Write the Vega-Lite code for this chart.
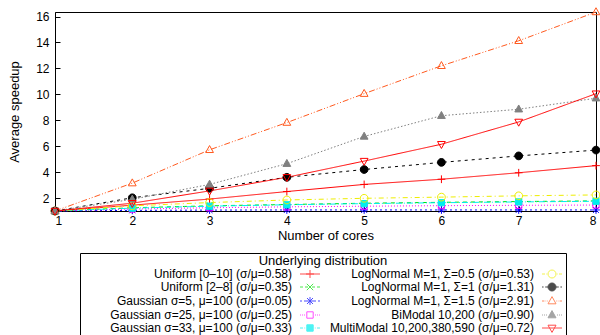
{
  "$schema": "https://vega.github.io/schema/vega-lite/v6.json",
  "width": 541,
  "height": 199,
  "autosize": {"type": "none"},
  "padding": {"left": 55, "top": 12, "right": 4, "bottom": 124},
  "background": "white",
  "config": {
    "font": "Liberation Sans",
    "view": {"stroke": "black", "strokeWidth": 1},
    "axis": {"labelFont": "Liberation Sans", "titleFont": "Liberation Sans", "labelFontSize": 12, "titleFontSize": 13, "titleFontWeight": "normal", "labelColor": "black", "titleColor": "black", "domainColor": "black", "tickColor": "black", "grid": false},
    "legend": {"orient": "none", "legendX": 25, "legendY": 241, "columns": 2, "gridAlign": "each", "labelAlign": "right", "labelOffset": -24, "symbolOffset": 222, "labelLimit": 400, "symbolSize": 64, "symbolStrokeWidth": 1, "symbolFillColor": "transparent", "labelFont": "Liberation Sans", "labelFontSize": 12, "labelColor": "black", "titleFont": "Liberation Sans", "titleFontSize": 13, "titleFontWeight": "normal", "titleColor": "black", "titleAnchor": "middle", "titlePadding": 0, "strokeColor": "black", "padding": 2, "rowPadding": 1, "columnPadding": 2}
  },
  "data": {"values": [
    {"series": "Uniform [0–10] (σ/μ=0.58)", "cores": 1, "speedup": 1},
    {"series": "Uniform [0–10] (σ/μ=0.58)", "cores": 2, "speedup": 1.45},
    {"series": "Uniform [0–10] (σ/μ=0.58)", "cores": 3, "speedup": 1.92},
    {"series": "Uniform [0–10] (σ/μ=0.58)", "cores": 4, "speedup": 2.5},
    {"series": "Uniform [0–10] (σ/μ=0.58)", "cores": 5, "speedup": 3.05},
    {"series": "Uniform [0–10] (σ/μ=0.58)", "cores": 6, "speedup": 3.45},
    {"series": "Uniform [0–10] (σ/μ=0.58)", "cores": 7, "speedup": 3.95},
    {"series": "Uniform [0–10] (σ/μ=0.58)", "cores": 8, "speedup": 4.5},
    {"series": "Uniform [2–8] (σ/μ=0.35)", "cores": 1, "speedup": 1},
    {"series": "Uniform [2–8] (σ/μ=0.35)", "cores": 2, "speedup": 1.25},
    {"series": "Uniform [2–8] (σ/μ=0.35)", "cores": 3, "speedup": 1.4},
    {"series": "Uniform [2–8] (σ/μ=0.35)", "cores": 4, "speedup": 1.5},
    {"series": "Uniform [2–8] (σ/μ=0.35)", "cores": 5, "speedup": 1.6},
    {"series": "Uniform [2–8] (σ/μ=0.35)", "cores": 6, "speedup": 1.67},
    {"series": "Uniform [2–8] (σ/μ=0.35)", "cores": 7, "speedup": 1.73},
    {"series": "Uniform [2–8] (σ/μ=0.35)", "cores": 8, "speedup": 1.78},
    {"series": "Gaussian σ=5, μ=100 (σ/μ=0.05)", "cores": 1, "speedup": 1},
    {"series": "Gaussian σ=5, μ=100 (σ/μ=0.05)", "cores": 2, "speedup": 1.05},
    {"series": "Gaussian σ=5, μ=100 (σ/μ=0.05)", "cores": 3, "speedup": 1.07},
    {"series": "Gaussian σ=5, μ=100 (σ/μ=0.05)", "cores": 4, "speedup": 1.08},
    {"series": "Gaussian σ=5, μ=100 (σ/μ=0.05)", "cores": 5, "speedup": 1.08},
    {"series": "Gaussian σ=5, μ=100 (σ/μ=0.05)", "cores": 6, "speedup": 1.08},
    {"series": "Gaussian σ=5, μ=100 (σ/μ=0.05)", "cores": 7, "speedup": 1.08},
    {"series": "Gaussian σ=5, μ=100 (σ/μ=0.05)", "cores": 8, "speedup": 1.08},
    {"series": "Gaussian σ=25, μ=100 (σ/μ=0.25)", "cores": 1, "speedup": 1},
    {"series": "Gaussian σ=25, μ=100 (σ/μ=0.25)", "cores": 2, "speedup": 1.15},
    {"series": "Gaussian σ=25, μ=100 (σ/μ=0.25)", "cores": 3, "speedup": 1.25},
    {"series": "Gaussian σ=25, μ=100 (σ/μ=0.25)", "cores": 4, "speedup": 1.32},
    {"series": "Gaussian σ=25, μ=100 (σ/μ=0.25)", "cores": 5, "speedup": 1.37},
    {"series": "Gaussian σ=25, μ=100 (σ/μ=0.25)", "cores": 6, "speedup": 1.41},
    {"series": "Gaussian σ=25, μ=100 (σ/μ=0.25)", "cores": 7, "speedup": 1.44},
    {"series": "Gaussian σ=25, μ=100 (σ/μ=0.25)", "cores": 8, "speedup": 1.46},
    {"series": "Gaussian σ=33, μ=100 (σ/μ=0.33)", "cores": 1, "speedup": 1},
    {"series": "Gaussian σ=33, μ=100 (σ/μ=0.33)", "cores": 2, "speedup": 1.22},
    {"series": "Gaussian σ=33, μ=100 (σ/μ=0.33)", "cores": 3, "speedup": 1.37},
    {"series": "Gaussian σ=33, μ=100 (σ/μ=0.33)", "cores": 4, "speedup": 1.48},
    {"series": "Gaussian σ=33, μ=100 (σ/μ=0.33)", "cores": 5, "speedup": 1.57},
    {"series": "Gaussian σ=33, μ=100 (σ/μ=0.33)", "cores": 6, "speedup": 1.64},
    {"series": "Gaussian σ=33, μ=100 (σ/μ=0.33)", "cores": 7, "speedup": 1.7},
    {"series": "Gaussian σ=33, μ=100 (σ/μ=0.33)", "cores": 8, "speedup": 1.75},
    {"series": "LogNormal M=1, Σ=0.5 (σ/μ=0.53)", "cores": 1, "speedup": 1},
    {"series": "LogNormal M=1, Σ=0.5 (σ/μ=0.53)", "cores": 2, "speedup": 1.4},
    {"series": "LogNormal M=1, Σ=0.5 (σ/μ=0.53)", "cores": 3, "speedup": 1.65},
    {"series": "LogNormal M=1, Σ=0.5 (σ/μ=0.53)", "cores": 4, "speedup": 1.85},
    {"series": "LogNormal M=1, Σ=0.5 (σ/μ=0.53)", "cores": 5, "speedup": 1.98},
    {"series": "LogNormal M=1, Σ=0.5 (σ/μ=0.53)", "cores": 6, "speedup": 2.07},
    {"series": "LogNormal M=1, Σ=0.5 (σ/μ=0.53)", "cores": 7, "speedup": 2.17},
    {"series": "LogNormal M=1, Σ=0.5 (σ/μ=0.53)", "cores": 8, "speedup": 2.24},
    {"series": "LogNormal M=1, Σ=1 (σ/μ=1.31)", "cores": 1, "speedup": 1},
    {"series": "LogNormal M=1, Σ=1 (σ/μ=1.31)", "cores": 2, "speedup": 2.02},
    {"series": "LogNormal M=1, Σ=1 (σ/μ=1.31)", "cores": 3, "speedup": 2.75},
    {"series": "LogNormal M=1, Σ=1 (σ/μ=1.31)", "cores": 4, "speedup": 3.6},
    {"series": "LogNormal M=1, Σ=1 (σ/μ=1.31)", "cores": 5, "speedup": 4.2},
    {"series": "LogNormal M=1, Σ=1 (σ/μ=1.31)", "cores": 6, "speedup": 4.75},
    {"series": "LogNormal M=1, Σ=1 (σ/μ=1.31)", "cores": 7, "speedup": 5.25},
    {"series": "LogNormal M=1, Σ=1 (σ/μ=1.31)", "cores": 8, "speedup": 5.7},
    {"series": "LogNormal M=1, Σ=1.5 (σ/μ=2.91)", "cores": 1, "speedup": 1},
    {"series": "LogNormal M=1, Σ=1.5 (σ/μ=2.91)", "cores": 2, "speedup": 3.15},
    {"series": "LogNormal M=1, Σ=1.5 (σ/μ=2.91)", "cores": 3, "speedup": 5.72},
    {"series": "LogNormal M=1, Σ=1.5 (σ/μ=2.91)", "cores": 4, "speedup": 7.82},
    {"series": "LogNormal M=1, Σ=1.5 (σ/μ=2.91)", "cores": 5, "speedup": 10.05},
    {"series": "LogNormal M=1, Σ=1.5 (σ/μ=2.91)", "cores": 6, "speedup": 12.2},
    {"series": "LogNormal M=1, Σ=1.5 (σ/μ=2.91)", "cores": 7, "speedup": 14.13},
    {"series": "LogNormal M=1, Σ=1.5 (σ/μ=2.91)", "cores": 8, "speedup": 16.35},
    {"series": "BiModal 10,200 (σ/μ=0.90)", "cores": 1, "speedup": 1},
    {"series": "BiModal 10,200 (σ/μ=0.90)", "cores": 2, "speedup": 1.9},
    {"series": "BiModal 10,200 (σ/μ=0.90)", "cores": 3, "speedup": 3.05},
    {"series": "BiModal 10,200 (σ/μ=0.90)", "cores": 4, "speedup": 4.65},
    {"series": "BiModal 10,200 (σ/μ=0.90)", "cores": 5, "speedup": 6.75},
    {"series": "BiModal 10,200 (σ/μ=0.90)", "cores": 6, "speedup": 8.35},
    {"series": "BiModal 10,200 (σ/μ=0.90)", "cores": 7, "speedup": 8.85},
    {"series": "BiModal 10,200 (σ/μ=0.90)", "cores": 8, "speedup": 9.7},
    {"series": "MultiModal 10,200,380,590 (σ/μ=0.72)", "cores": 1, "speedup": 1},
    {"series": "MultiModal 10,200,380,590 (σ/μ=0.72)", "cores": 2, "speedup": 1.6},
    {"series": "MultiModal 10,200,380,590 (σ/μ=0.72)", "cores": 3, "speedup": 2.55},
    {"series": "MultiModal 10,200,380,590 (σ/μ=0.72)", "cores": 4, "speedup": 3.6},
    {"series": "MultiModal 10,200,380,590 (σ/μ=0.72)", "cores": 5, "speedup": 4.85},
    {"series": "MultiModal 10,200,380,590 (σ/μ=0.72)", "cores": 6, "speedup": 6.15},
    {"series": "MultiModal 10,200,380,590 (σ/μ=0.72)", "cores": 7, "speedup": 7.87},
    {"series": "MultiModal 10,200,380,590 (σ/μ=0.72)", "cores": 8, "speedup": 10.05}
  ]},
  "encoding": {
    "x": {"field": "cores", "type": "quantitative", "scale": {"domain": [1, 8], "nice": false, "zero": false},
      "axis": {"values": [1, 2, 3, 4, 5, 6, 7, 8], "title": "Number of cores", "tickSize": -5, "labelPadding": 9, "titlePadding": 3, "format": "d"}},
    "y": {"field": "speedup", "type": "quantitative", "scale": {"domain": [1, 16.35], "nice": false, "zero": false},
      "axis": {"values": [2, 4, 6, 8, 10, 12, 14, 16], "title": "Average speedup", "tickSize": -5, "labelPadding": 11, "titlePadding": 14, "format": "d"}}
  },
  "layer": [
    {
      "mark": {"type": "line", "strokeWidth": 1},
      "encoding": {
        "stroke": {"field": "series", "type": "nominal", "legend": null,
          "scale": {"domain": ["Uniform [0–10] (σ/μ=0.58)", "Uniform [2–8] (σ/μ=0.35)", "Gaussian σ=5, μ=100 (σ/μ=0.05)", "Gaussian σ=25, μ=100 (σ/μ=0.25)", "Gaussian σ=33, μ=100 (σ/μ=0.33)", "LogNormal M=1, Σ=0.5 (σ/μ=0.53)", "LogNormal M=1, Σ=1 (σ/μ=1.31)", "LogNormal M=1, Σ=1.5 (σ/μ=2.91)", "BiModal 10,200 (σ/μ=0.90)", "MultiModal 10,200,380,590 (σ/μ=0.72)"],
            "range": ["#ff0000", "#00e000", "#0000ff", "#ff00ff", "#00eeee", "#eeee00", "#000000", "#ff5a1f", "#808080", "#ff0000"]}},
        "strokeDash": {"field": "series", "type": "nominal", "legend": null,
          "scale": {"domain": ["Uniform [0–10] (σ/μ=0.58)", "Uniform [2–8] (σ/μ=0.35)", "Gaussian σ=5, μ=100 (σ/μ=0.05)", "Gaussian σ=25, μ=100 (σ/μ=0.25)", "Gaussian σ=33, μ=100 (σ/μ=0.33)", "LogNormal M=1, Σ=0.5 (σ/μ=0.53)", "LogNormal M=1, Σ=1 (σ/μ=1.31)", "LogNormal M=1, Σ=1.5 (σ/μ=2.91)", "BiModal 10,200 (σ/μ=0.90)", "MultiModal 10,200,380,590 (σ/μ=0.72)"],
            "range": [[1, 0], [4, 4], [2, 3], [1, 2], [6, 2, 1, 2], [5, 3, 1, 3], [3, 4], [6, 2, 1, 2, 1, 2], [1.5, 2], [1, 0]]}}
      }
    },
    {
      "mark": {"type": "point", "filled": true, "strokeWidth": 1, "size": 60, "opacity": 1},
      "encoding": {
        "stroke": {"field": "series", "type": "nominal", "legend": null,
          "scale": {"domain": ["Uniform [0–10] (σ/μ=0.58)", "Uniform [2–8] (σ/μ=0.35)", "Gaussian σ=5, μ=100 (σ/μ=0.05)", "Gaussian σ=25, μ=100 (σ/μ=0.25)", "Gaussian σ=33, μ=100 (σ/μ=0.33)", "LogNormal M=1, Σ=0.5 (σ/μ=0.53)", "LogNormal M=1, Σ=1 (σ/μ=1.31)", "LogNormal M=1, Σ=1.5 (σ/μ=2.91)", "BiModal 10,200 (σ/μ=0.90)", "MultiModal 10,200,380,590 (σ/μ=0.72)"],
            "range": ["#ff0000", "#00e000", "#0000ff", "#ff00ff", "#00eeee", "#eeee00", "#000000", "#ff5a1f", "#808080", "#ff0000"]}},
        "fill": {"field": "series", "type": "nominal", "legend": null,
          "scale": {"domain": ["Uniform [0–10] (σ/μ=0.58)", "Uniform [2–8] (σ/μ=0.35)", "Gaussian σ=5, μ=100 (σ/μ=0.05)", "Gaussian σ=25, μ=100 (σ/μ=0.25)", "Gaussian σ=33, μ=100 (σ/μ=0.33)", "LogNormal M=1, Σ=0.5 (σ/μ=0.53)", "LogNormal M=1, Σ=1 (σ/μ=1.31)", "LogNormal M=1, Σ=1.5 (σ/μ=2.91)", "BiModal 10,200 (σ/μ=0.90)", "MultiModal 10,200,380,590 (σ/μ=0.72)"],
            "range": ["transparent", "transparent", "transparent", "transparent", "#00eeee", "transparent", "#000000", "transparent", "#808080", "transparent"]}},
        "shape": {"field": "series", "type": "nominal", "legend": null,
          "scale": {"domain": ["Uniform [0–10] (σ/μ=0.58)", "Uniform [2–8] (σ/μ=0.35)", "Gaussian σ=5, μ=100 (σ/μ=0.05)", "Gaussian σ=25, μ=100 (σ/μ=0.25)", "Gaussian σ=33, μ=100 (σ/μ=0.33)", "LogNormal M=1, Σ=0.5 (σ/μ=0.53)", "LogNormal M=1, Σ=1 (σ/μ=1.31)", "LogNormal M=1, Σ=1.5 (σ/μ=2.91)", "BiModal 10,200 (σ/μ=0.90)", "MultiModal 10,200,380,590 (σ/μ=0.72)"],
            "range": ["M-1,0H1M0,-1V1", "M-0.8,-0.8L0.8,0.8M-0.8,0.8L0.8,-0.8", "M-1,0H1M0,-1V1M-0.75,-0.75L0.75,0.75M-0.75,0.75L0.75,-0.75", "M-0.8,-0.8H0.8V0.8H-0.8Z", "M-0.8,-0.8H0.8V0.8H-0.8Z", "M1,0A1,1,0,1,1,-1,0A1,1,0,1,1,1,0Z", "M1,0A1,1,0,1,1,-1,0A1,1,0,1,1,1,0Z", "M0,-1.1L1,0.7H-1Z", "M0,-1.1L1,0.7H-1Z", "M0,1.1L1,-0.7H-1Z"]}}
      }
    },
    {
      "transform": [{"filter": "datum.cores > 99"}],
      "mark": {"type": "point", "filled": true, "strokeWidth": 1},
      "encoding": {
        "stroke": {"field": "series", "type": "nominal", "legend": {"title": "Underlying distribution"},
          "scale": {"domain": ["Uniform [0–10] (σ/μ=0.58)", "Uniform [2–8] (σ/μ=0.35)", "Gaussian σ=5, μ=100 (σ/μ=0.05)", "Gaussian σ=25, μ=100 (σ/μ=0.25)", "Gaussian σ=33, μ=100 (σ/μ=0.33)", "LogNormal M=1, Σ=0.5 (σ/μ=0.53)", "LogNormal M=1, Σ=1 (σ/μ=1.31)", "LogNormal M=1, Σ=1.5 (σ/μ=2.91)", "BiModal 10,200 (σ/μ=0.90)", "MultiModal 10,200,380,590 (σ/μ=0.72)"],
            "range": ["#ff0000", "#00e000", "#0000ff", "#ff00ff", "#00eeee", "#eeee00", "#000000", "#ff5a1f", "#808080", "#ff0000"]}},
        "fill": {"field": "series", "type": "nominal", "legend": {"title": "Underlying distribution"},
          "scale": {"domain": ["Uniform [0–10] (σ/μ=0.58)", "Uniform [2–8] (σ/μ=0.35)", "Gaussian σ=5, μ=100 (σ/μ=0.05)", "Gaussian σ=25, μ=100 (σ/μ=0.25)", "Gaussian σ=33, μ=100 (σ/μ=0.33)", "LogNormal M=1, Σ=0.5 (σ/μ=0.53)", "LogNormal M=1, Σ=1 (σ/μ=1.31)", "LogNormal M=1, Σ=1.5 (σ/μ=2.91)", "BiModal 10,200 (σ/μ=0.90)", "MultiModal 10,200,380,590 (σ/μ=0.72)"],
            "range": ["transparent", "transparent", "transparent", "transparent", "#00eeee", "transparent", "#000000", "transparent", "#808080", "transparent"]}},
        "shape": {"field": "series", "type": "nominal", "legend": {"title": "Underlying distribution"},
          "scale": {"domain": ["Uniform [0–10] (σ/μ=0.58)", "Uniform [2–8] (σ/μ=0.35)", "Gaussian σ=5, μ=100 (σ/μ=0.05)", "Gaussian σ=25, μ=100 (σ/μ=0.25)", "Gaussian σ=33, μ=100 (σ/μ=0.33)", "LogNormal M=1, Σ=0.5 (σ/μ=0.53)", "LogNormal M=1, Σ=1 (σ/μ=1.31)", "LogNormal M=1, Σ=1.5 (σ/μ=2.91)", "BiModal 10,200 (σ/μ=0.90)", "MultiModal 10,200,380,590 (σ/μ=0.72)"],
            "range": [
              "M-2.5,0H2.5M-1,0H1M0,-1V1",
              "M-2.5,0H-1.75M-1.25,0H-0.5M0.5,0H1.25M1.75,0H2.5M-0.8,-0.8L0.8,0.8M-0.8,0.8L0.8,-0.8",
              "M-2.5,0H-2M-1.5,0H-1M1,0H1.5M2,0H2.5M-1,0H1M0,-1V1M-0.75,-0.75L0.75,0.75M-0.75,0.75L0.75,-0.75",
              "M-2.5,0H-2.25M-2,0H-1.75M-1.5,0H-1.25M1.25,0H1.5M1.75,0H2M2.25,0H2.5M-0.8,-0.8H0.8V0.8H-0.8Z",
              "M-2.5,0H-1.75M-1.4,0H-1.2M1.2,0H1.4M1.75,0H2.5M-0.8,-0.8H0.8V0.8H-0.8Z",
              "M-2.5,0H-1.75M-1.4,0H-1.2M1.2,0H1.4M1.75,0H2.5M1,0A1,1,0,1,1,-1,0A1,1,0,1,1,1,0Z",
              "M-2.5,0H-2.1M-1.7,0H-1M1,0H1.7M2.1,0H2.5M1,0A1,1,0,1,1,-1,0A1,1,0,1,1,1,0Z",
              "M-2.5,0H-1.9M-1.6,0H-1.45M-1.2,0H-1.05M1.05,0H1.2M1.45,0H1.6M1.9,0H2.5M0,-1.1L1,0.7H-1Z",
              "M-2.5,0H-2.25M-2,0H-1.75M-1.5,0H-1.25M1.25,0H1.5M1.75,0H2M2.25,0H2.5M0,-1.1L1,0.7H-1Z",
              "M-2.5,0H2.5M0,1.1L1,-0.7H-1Z"
            ]}}
      }
    }
  ],
  "resolve": {"scale": {"stroke": "independent", "fill": "independent", "shape": "independent", "strokeDash": "independent"}}
}
